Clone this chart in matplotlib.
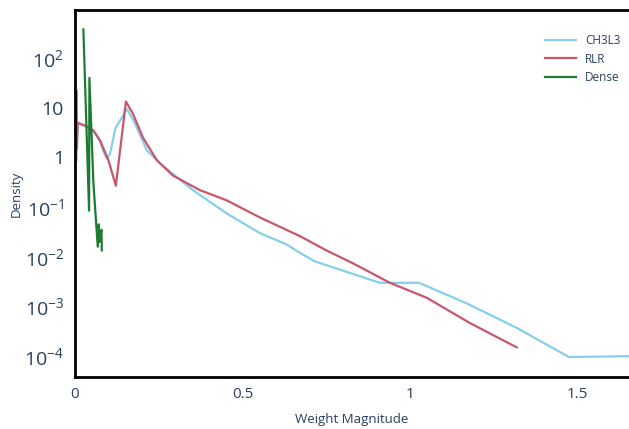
import matplotlib
matplotlib.use("Agg")
import matplotlib.pyplot as plt
from matplotlib.ticker import FixedLocator, FixedFormatter, NullLocator

plt.rcParams['font.family'] = ['Open Sans', 'DejaVu Sans']
plt.rcParams['mathtext.fontset'] = 'custom'
plt.rcParams['mathtext.rm'] = 'Open Sans'
plt.rcParams['mathtext.it'] = 'Open Sans'

# CH3L3 density curve
ch3l3_x = [0.005, 0.008, 0.03, 0.055, 0.075, 0.085, 0.095, 0.105, 0.12, 0.155,
           0.175, 0.215, 0.254, 0.352, 0.454, 0.552, 0.63, 0.672, 0.716,
           0.91, 1.027, 1.17, 1.319, 1.475, 1.66]
ch3l3_y = [0.9, 4.9, 4.3, 3.4, 2.1, 1.3, 0.95, 1.2, 3.8, 9.5,
           5.5, 1.38, 0.76, 0.22, 0.074, 0.03, 0.018, 0.012, 0.0081,
           0.0030, 0.0030, 0.00115, 0.00037, 0.000096, 0.0001]

# RLR density curve
rlr_x = [0.005, 0.0055, 0.008, 0.03, 0.055, 0.075, 0.1, 0.122, 0.152,
         0.173, 0.203, 0.245, 0.293, 0.373, 0.453, 0.552, 0.672, 0.751,
         0.83, 0.94, 1.05, 1.18, 1.319]
rlr_y = [22, 1.5, 5.0, 4.4, 3.5, 2.2, 0.87, 0.27, 13.4,
         7.6, 2.5, 0.87, 0.43, 0.22, 0.137, 0.062, 0.026, 0.0134,
         0.0074, 0.003, 0.0015, 0.00046, 0.00015]

# Dense density curve
dense_x = [0.025, 0.042, 0.043, 0.055, 0.068, 0.071, 0.073, 0.079, 0.080]
dense_y = [380, 0.085, 40, 0.3, 0.016, 0.045, 0.02, 0.035, 0.0135]

ytick_vals = [1e-4, 1e-3, 1e-2, 1e-1, 1, 10, 100]
ytick_labels = [r'$10^{-4}$', r'$10^{-3}$', r'$10^{-2}$', r'$10^{-1}$', '1', '10', r'$10^{2}$']
xtick_vals = [0, 0.5, 1, 1.5]
xtick_labels = ['0', '0.5', '1', '1.5']

fig = plt.figure(figsize=(6.29, 4.29), dpi=100)
ax = fig.add_axes([75/629, 1 - 377/429, 1 - 75/629, (377 - 10)/429])

ax.plot(ch3l3_x, ch3l3_y, color='#87ceeb', lw=1.6, label='CH3L3')
ax.plot(rlr_x, rlr_y, color='#c9566b', lw=1.6, label='RLR')
ax.plot(dense_x, dense_y, color='#1e7b34', lw=1.6, label='Dense')

ax.set_yscale('log')
ax.set_xlim(0, 1.654)
ax.set_ylim(10**-4.42, 10**2.97)

ax.yaxis.set_major_locator(FixedLocator(ytick_vals))
ax.yaxis.set_major_formatter(FixedFormatter(ytick_labels))
ax.yaxis.set_minor_locator(NullLocator())
ax.xaxis.set_major_locator(FixedLocator(xtick_vals))
ax.xaxis.set_major_formatter(FixedFormatter(xtick_labels))
ax.tick_params(axis='y', length=0, pad=8, labelsize=14, labelcolor='#2a3f5f')
ax.tick_params(axis='x', length=0, pad=7, labelsize=11, labelcolor='#2a3f5f')

for side in ['left', 'bottom', 'top']:
    ax.spines[side].set_color('black')
    ax.spines[side].set_linewidth(2)
ax.spines['right'].set_visible(False)

ax.set_xlabel('Weight Magnitude', fontsize=9.5, color='#2a3f5f', labelpad=8)
ax.set_ylabel('Density', fontsize=9.5, color='#2a3f5f', labelpad=1)

ax.legend(loc='upper right', bbox_to_anchor=(1.0, 0.958), frameon=False, fontsize=8.5,
          handlelength=2.6, labelspacing=0.5, borderaxespad=0.3,
          labelcolor='#2a3f5f')

fig.savefig('out.png', dpi=100)
